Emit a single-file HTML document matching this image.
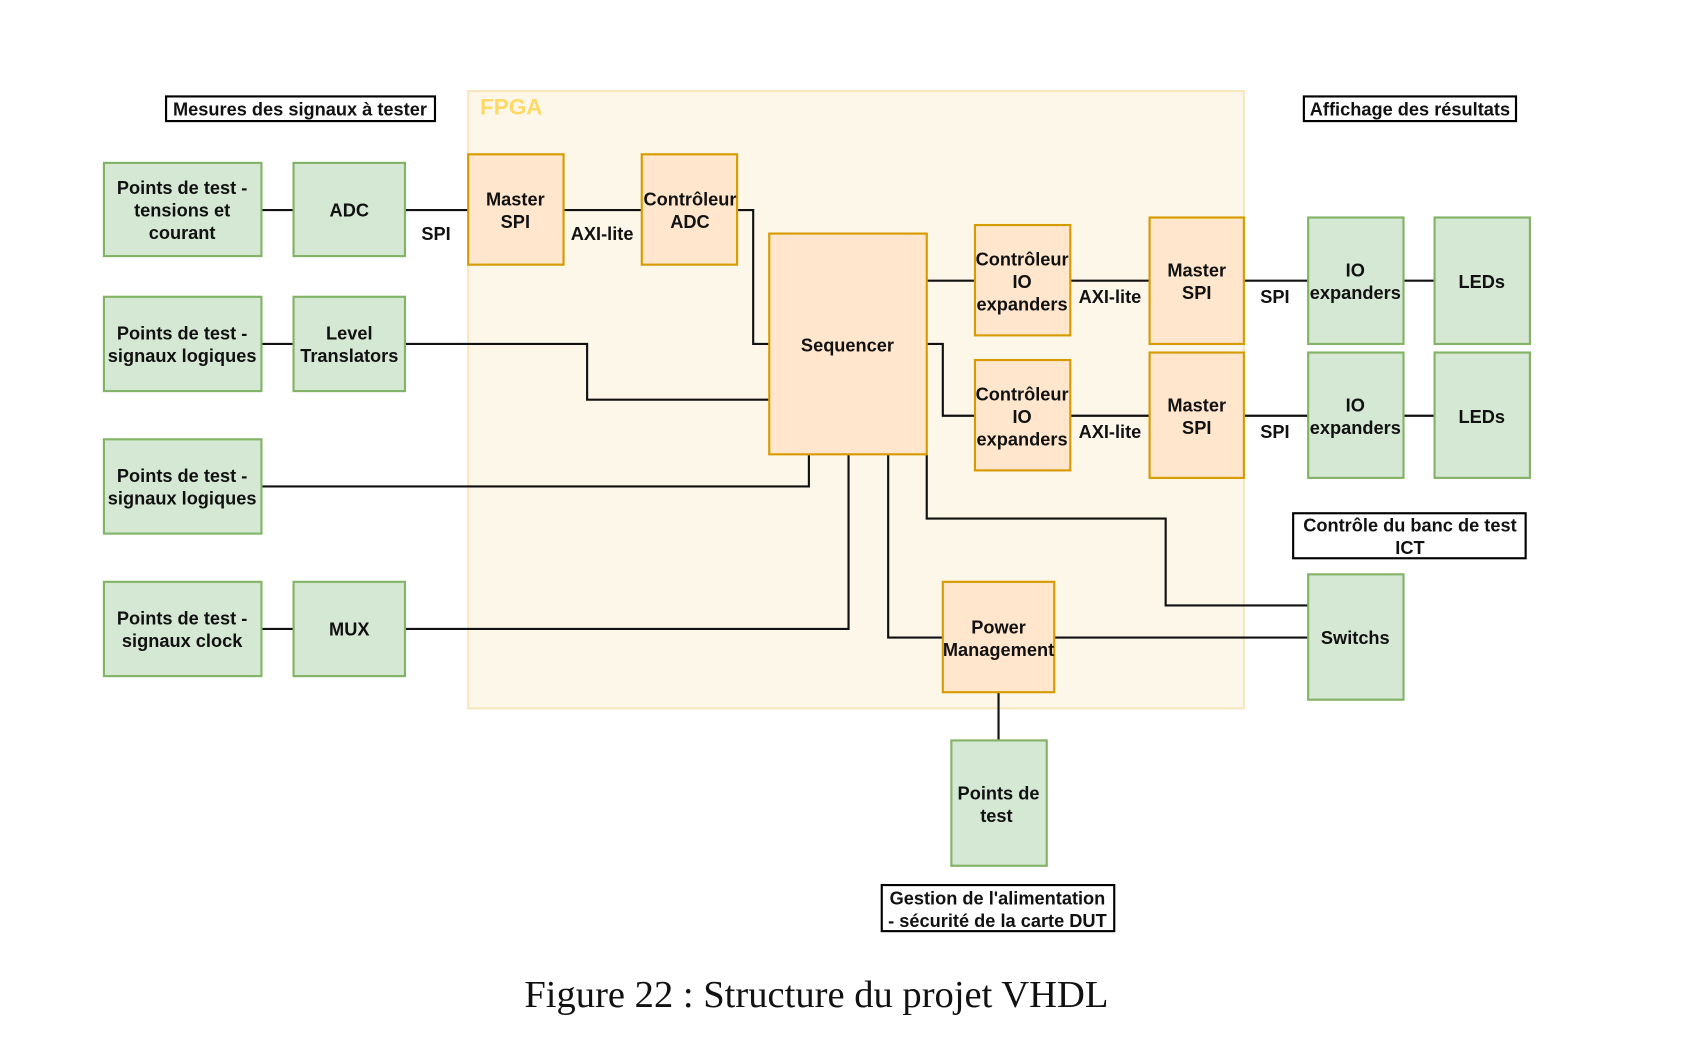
<!DOCTYPE html>
<html><head><meta charset="utf-8"><style>
html,body{margin:0;padding:0;background:#fff;}
svg{display:block;}
text{font-family:"Liberation Sans",sans-serif;font-weight:bold;font-size:17px;fill:#111;}
.g{fill:#d5e8d4;stroke:#82b366;stroke-width:2;}
.o{fill:#ffe6cc;stroke:#d79b00;stroke-width:2;}
.l{fill:#fff;stroke:#000;stroke-width:2;}
.w{fill:none;stroke:#111;stroke-width:2;}
</style></head><body>
<svg width="1681" height="1049" viewBox="0 0 1569 979" preserveAspectRatio="none">
<rect x="437" y="85" width="724" height="576" fill="#fdf7ea" stroke="#f6e7bd" stroke-width="2"/>
<text x="448" y="107" style="fill:#ffd966;font-size:21px">FPGA</text>
<g class="w">
<path d="M244 196H274M378 196H437M526 196H599M688 196H703V321H718"/>
<path d="M244 321H274M378 321H548V373H718"/>
<path d="M244 454H755V424"/>
<path d="M244 587H274M378 587H792V424"/>
<path d="M865 262H910M999 262H1073M1161 262H1221M1310 262H1339"/>
<path d="M865 321H880V388H910M999 388H1073M1161 388H1221M1310 388H1339"/>
<path d="M865 424V484H1088V565H1221"/>
<path d="M829 424V595H880M984 595H1221"/>
<path d="M932 646V691"/>
</g>
<rect class="l" x="155" y="90" width="251" height="23"/>
<rect class="l" x="1217" y="90" width="198" height="23"/>
<rect class="l" x="1207" y="479" width="217" height="42"/>
<rect class="l" x="823" y="826" width="217" height="43"/>
<g class="g">
<rect x="97" y="152" width="147" height="87"/><rect x="274" y="152" width="104" height="87"/>
<rect x="97" y="277" width="147" height="88"/><rect x="274" y="277" width="104" height="88"/>
<rect x="97" y="410" width="147" height="88"/>
<rect x="97" y="543" width="147" height="88"/><rect x="274" y="543" width="104" height="88"/>
<rect x="1221" y="203" width="89" height="118"/><rect x="1339" y="203" width="89" height="118"/>
<rect x="1221" y="329" width="89" height="117"/><rect x="1339" y="329" width="89" height="117"/>
<rect x="1221" y="536" width="89" height="117"/>
<rect x="888" y="691" width="89" height="117"/>
</g>
<g class="o">
<rect x="437" y="144" width="89" height="103"/>
<rect x="599" y="144" width="89" height="103"/>
<rect x="718" y="218" width="147" height="206"/>
<rect x="910" y="210" width="89" height="103"/>
<rect x="1073" y="203" width="88" height="118"/>
<rect x="910" y="336" width="89" height="103"/>
<rect x="1073" y="329" width="88" height="117"/>
<rect x="880" y="543" width="104" height="103"/>
</g>
<g text-anchor="middle">
<text x="280" y="108">Mesures des signaux à tester</text>
<text x="1316" y="108">Affichage des résultats</text>
<text x="1316" y="496">Contrôle du banc de test</text><text x="1316" y="517">ICT</text>
<text x="931" y="844">Gestion de l'alimentation</text><text x="931" y="865">- sécurité de la carte DUT</text>
<text x="170" y="181">Points de test -</text><text x="170" y="202">tensions et</text><text x="170" y="223">courant</text>
<text x="326" y="202">ADC</text>
<text x="170" y="317">Points de test -</text><text x="170" y="338">signaux logiques</text>
<text x="326" y="317">Level</text><text x="326" y="338">Translators</text>
<text x="170" y="450">Points de test -</text><text x="170" y="471">signaux logiques</text>
<text x="170" y="583">Points de test -</text><text x="170" y="604">signaux clock</text>
<text x="326" y="593">MUX</text>
<text x="481" y="192">Master</text><text x="481" y="213">SPI</text>
<text x="644" y="192">Contrôleur</text><text x="644" y="213">ADC</text>
<text x="791" y="328">Sequencer</text>
<text x="954" y="248">Contrôleur</text><text x="954" y="269">IO</text><text x="954" y="290">expanders</text>
<text x="954" y="374">Contrôleur</text><text x="954" y="395">IO</text><text x="954" y="416">expanders</text>
<text x="1117" y="258">Master</text><text x="1117" y="279">SPI</text>
<text x="1117" y="384">Master</text><text x="1117" y="405">SPI</text>
<text x="1265" y="258">IO</text><text x="1265" y="279">expanders</text>
<text x="1265" y="384">IO</text><text x="1265" y="405">expanders</text>
<text x="1383" y="269">LEDs</text><text x="1383" y="395">LEDs</text>
<text x="1265" y="601">Switchs</text>
<text x="932" y="591">Power</text><text x="932" y="612">Management</text>
<text x="932" y="746">Points de</text><text x="930" y="767">test</text>
<text x="407" y="224">SPI</text><text x="562" y="224">AXI-lite</text>
<text x="1036" y="283">AXI-lite</text><text x="1036" y="409">AXI-lite</text>
<text x="1190" y="283">SPI</text><text x="1190" y="409">SPI</text>
<text x="762" y="940" style="font-family:'Liberation Serif',serif;font-weight:normal;font-size:36px">Figure 22 : Structure du projet VHDL</text>
</g>
</svg>
</body></html>
